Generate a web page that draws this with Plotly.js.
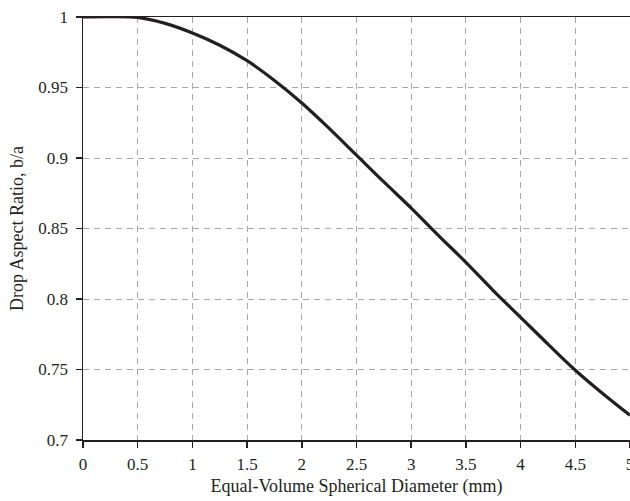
<!DOCTYPE html>
<html>
<head>
<meta charset="utf-8">
<script src="https://cdn.plot.ly/plotly-3.0.1.min.js"></script>
<style>html,body{margin:0;padding:0;background:#fff;}#chart{width:630px;height:501px;}</style>
</head>
<body>
<div id="chart"></div>
<script>
const diameterMm = [0, 0.25, 0.5, 0.75, 1, 1.25, 1.5, 1.75, 2, 2.25, 2.5, 2.75, 3, 3.25, 3.5, 3.75, 4, 4.25, 4.5, 4.75, 5];
const aspectRatio = [1.0, 1.0003, 0.9997, 0.9955, 0.9887, 0.980, 0.969, 0.955, 0.939, 0.921, 0.902, 0.883, 0.8645, 0.845, 0.826, 0.806, 0.787, 0.768, 0.7495, 0.733, 0.7175];
const xTicks = [0, 0.5, 1, 1.5, 2, 2.5, 3, 3.5, 4, 4.5, 5];
const xTickLabels = ['0', '0.5', '1', '1.5', '2', '2.5', '3', '3.5', '4', '4.5', '5'];
const yTicks = [0.7, 0.75, 0.8, 0.85, 0.9, 0.95, 1];
const yTickLabels = ['0.7', '0.75', '0.8', '0.85', '0.9', '0.95', '1'];

const fontFam = 'Liberation Serif, serif';
const trace = {
  x: diameterMm, y: aspectRatio, type: 'scatter', mode: 'lines',
  line: {color: '#231f20', width: 3.2, shape: 'spline', smoothing: 1},
  cliponaxis: false, hoverinfo: 'none'
};
const axisCommon = {
  showline: true, linecolor: '#231f20', linewidth: 1.5, mirror: true,
  ticks: 'outside', ticklen: 6, tickcolor: '#231f20', tickwidth: 1.5,
  showgrid: true, gridcolor: '#a8a8a8', gridwidth: 1, griddash: '6px,5px',
  zeroline: false, ticklabeloverflow: 'allow',
  tickfont: {family: fontFam, size: 17, color: '#231f20'}
};
const layout = {
  width: 630, height: 501,
  margin: {l: 83, r: 0, t: 17, b: 61},
  paper_bgcolor: '#fff', plot_bgcolor: '#fff',
  showlegend: false,
  xaxis: Object.assign({}, axisCommon, {
    range: [0, 5], tickmode: 'array', tickvals: xTicks, ticktext: xTickLabels,
    ticklabelstandoff: 2,
    title: {text: 'Equal-Volume Spherical Diameter (mm)', font: {family: fontFam, size: 18, color: '#231f20'}, standoff: 6}
  }),
  yaxis: Object.assign({}, axisCommon, {
    range: [0.7, 1], tickmode: 'array', tickvals: yTicks, ticktext: yTickLabels,
    ticklabelstandoff: 4,
    title: {text: 'Drop Aspect Ratio, b/a', font: {family: fontFam, size: 18, color: '#231f20'}, standoff: 10}
  })
};
Plotly.newPlot('chart', [trace], layout, {displayModeBar: false, staticPlot: true});
</script>
</body>
</html>
